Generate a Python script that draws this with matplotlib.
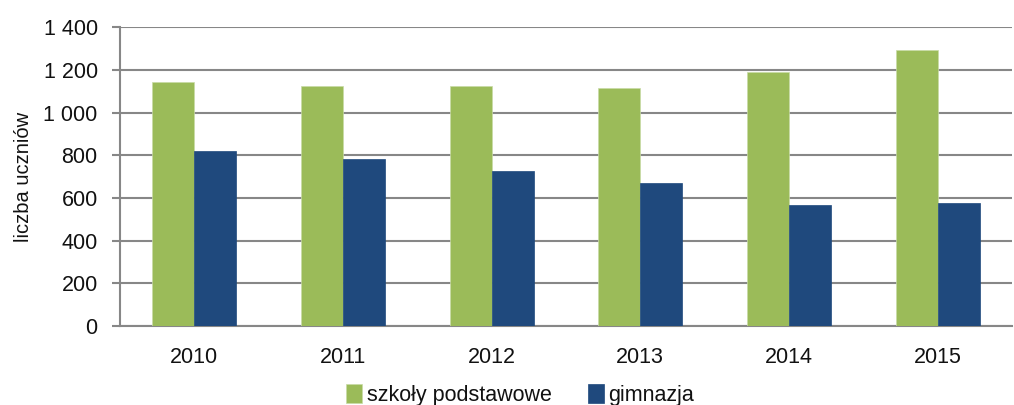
import matplotlib.pyplot as plt
import numpy as np

# dane
years = ["2010", "2011", "2012", "2013", "2014", "2015"]
szkoly_podstawowe = [1141, 1122, 1122, 1113, 1188, 1291]
gimnazja = [821, 783, 727, 671, 567, 577]
y_ticks = [0, 200, 400, 600, 800, 1000, 1200, 1400]
y_tick_labels = ["0", "200", "400", "600", "800", "1 000", "1 200", "1 400"]

GREEN = "#9BBB59"
BLUE = "#1F497D"
GRID = "#878787"
TEXT = "#111111"

plt.rcParams["font.family"] = ["Liberation Sans", "DejaVu Sans"]

fig = plt.figure(figsize=(10.14, 4.05), dpi=100)
ax = fig.add_axes([0.1183, 0.195, 0.8797, 0.738])

x = np.arange(len(years))
w = 0.283
ax.bar(x - w / 2, szkoly_podstawowe, width=w, color=GREEN, edgecolor="#c8dba6",
       linewidth=0.5, label="szkoły podstawowe", zorder=3)
ax.bar(x + w / 2, gimnazja, width=w, color=BLUE, edgecolor="#1F497D",
       linewidth=0.5, label="gimnazja", zorder=3)

ax.set_xlim(-0.5, len(years) - 0.5)
ax.set_ylim(0, 1400)
ax.set_yticks(y_ticks)
ax.set_yticklabels(y_tick_labels)
ax.set_xticks(x)
ax.set_xticklabels(years)

ax.yaxis.grid(True, color=GRID, linewidth=1.5, zorder=0)
ax.set_axisbelow(True)
for s in ("top", "right"):
    ax.spines[s].set_visible(False)
ax.spines["left"].set_color(GRID)
ax.spines["left"].set_linewidth(1.5)
ax.spines["bottom"].set_color(GRID)
ax.spines["bottom"].set_linewidth(1.5)

ax.tick_params(axis="y", length=6, width=1.5, color=GRID, pad=10,
               labelsize=15.5, labelcolor=TEXT)
ax.tick_params(axis="x", length=0, pad=15, labelsize=15.5, labelcolor=TEXT)

ax.set_ylabel("liczba uczniów", fontsize=14.5, color=TEXT)
ax.yaxis.set_label_coords(-0.098, 0.5)

fig.legend(loc="lower center", bbox_to_anchor=(0.513, -0.05), ncol=2,
           frameon=False, fontsize=15.5, handlelength=0.75, handleheight=1.0,
           handletextpad=0.2, columnspacing=1.7, labelcolor=TEXT)

fig.savefig("out.png", dpi=100)
